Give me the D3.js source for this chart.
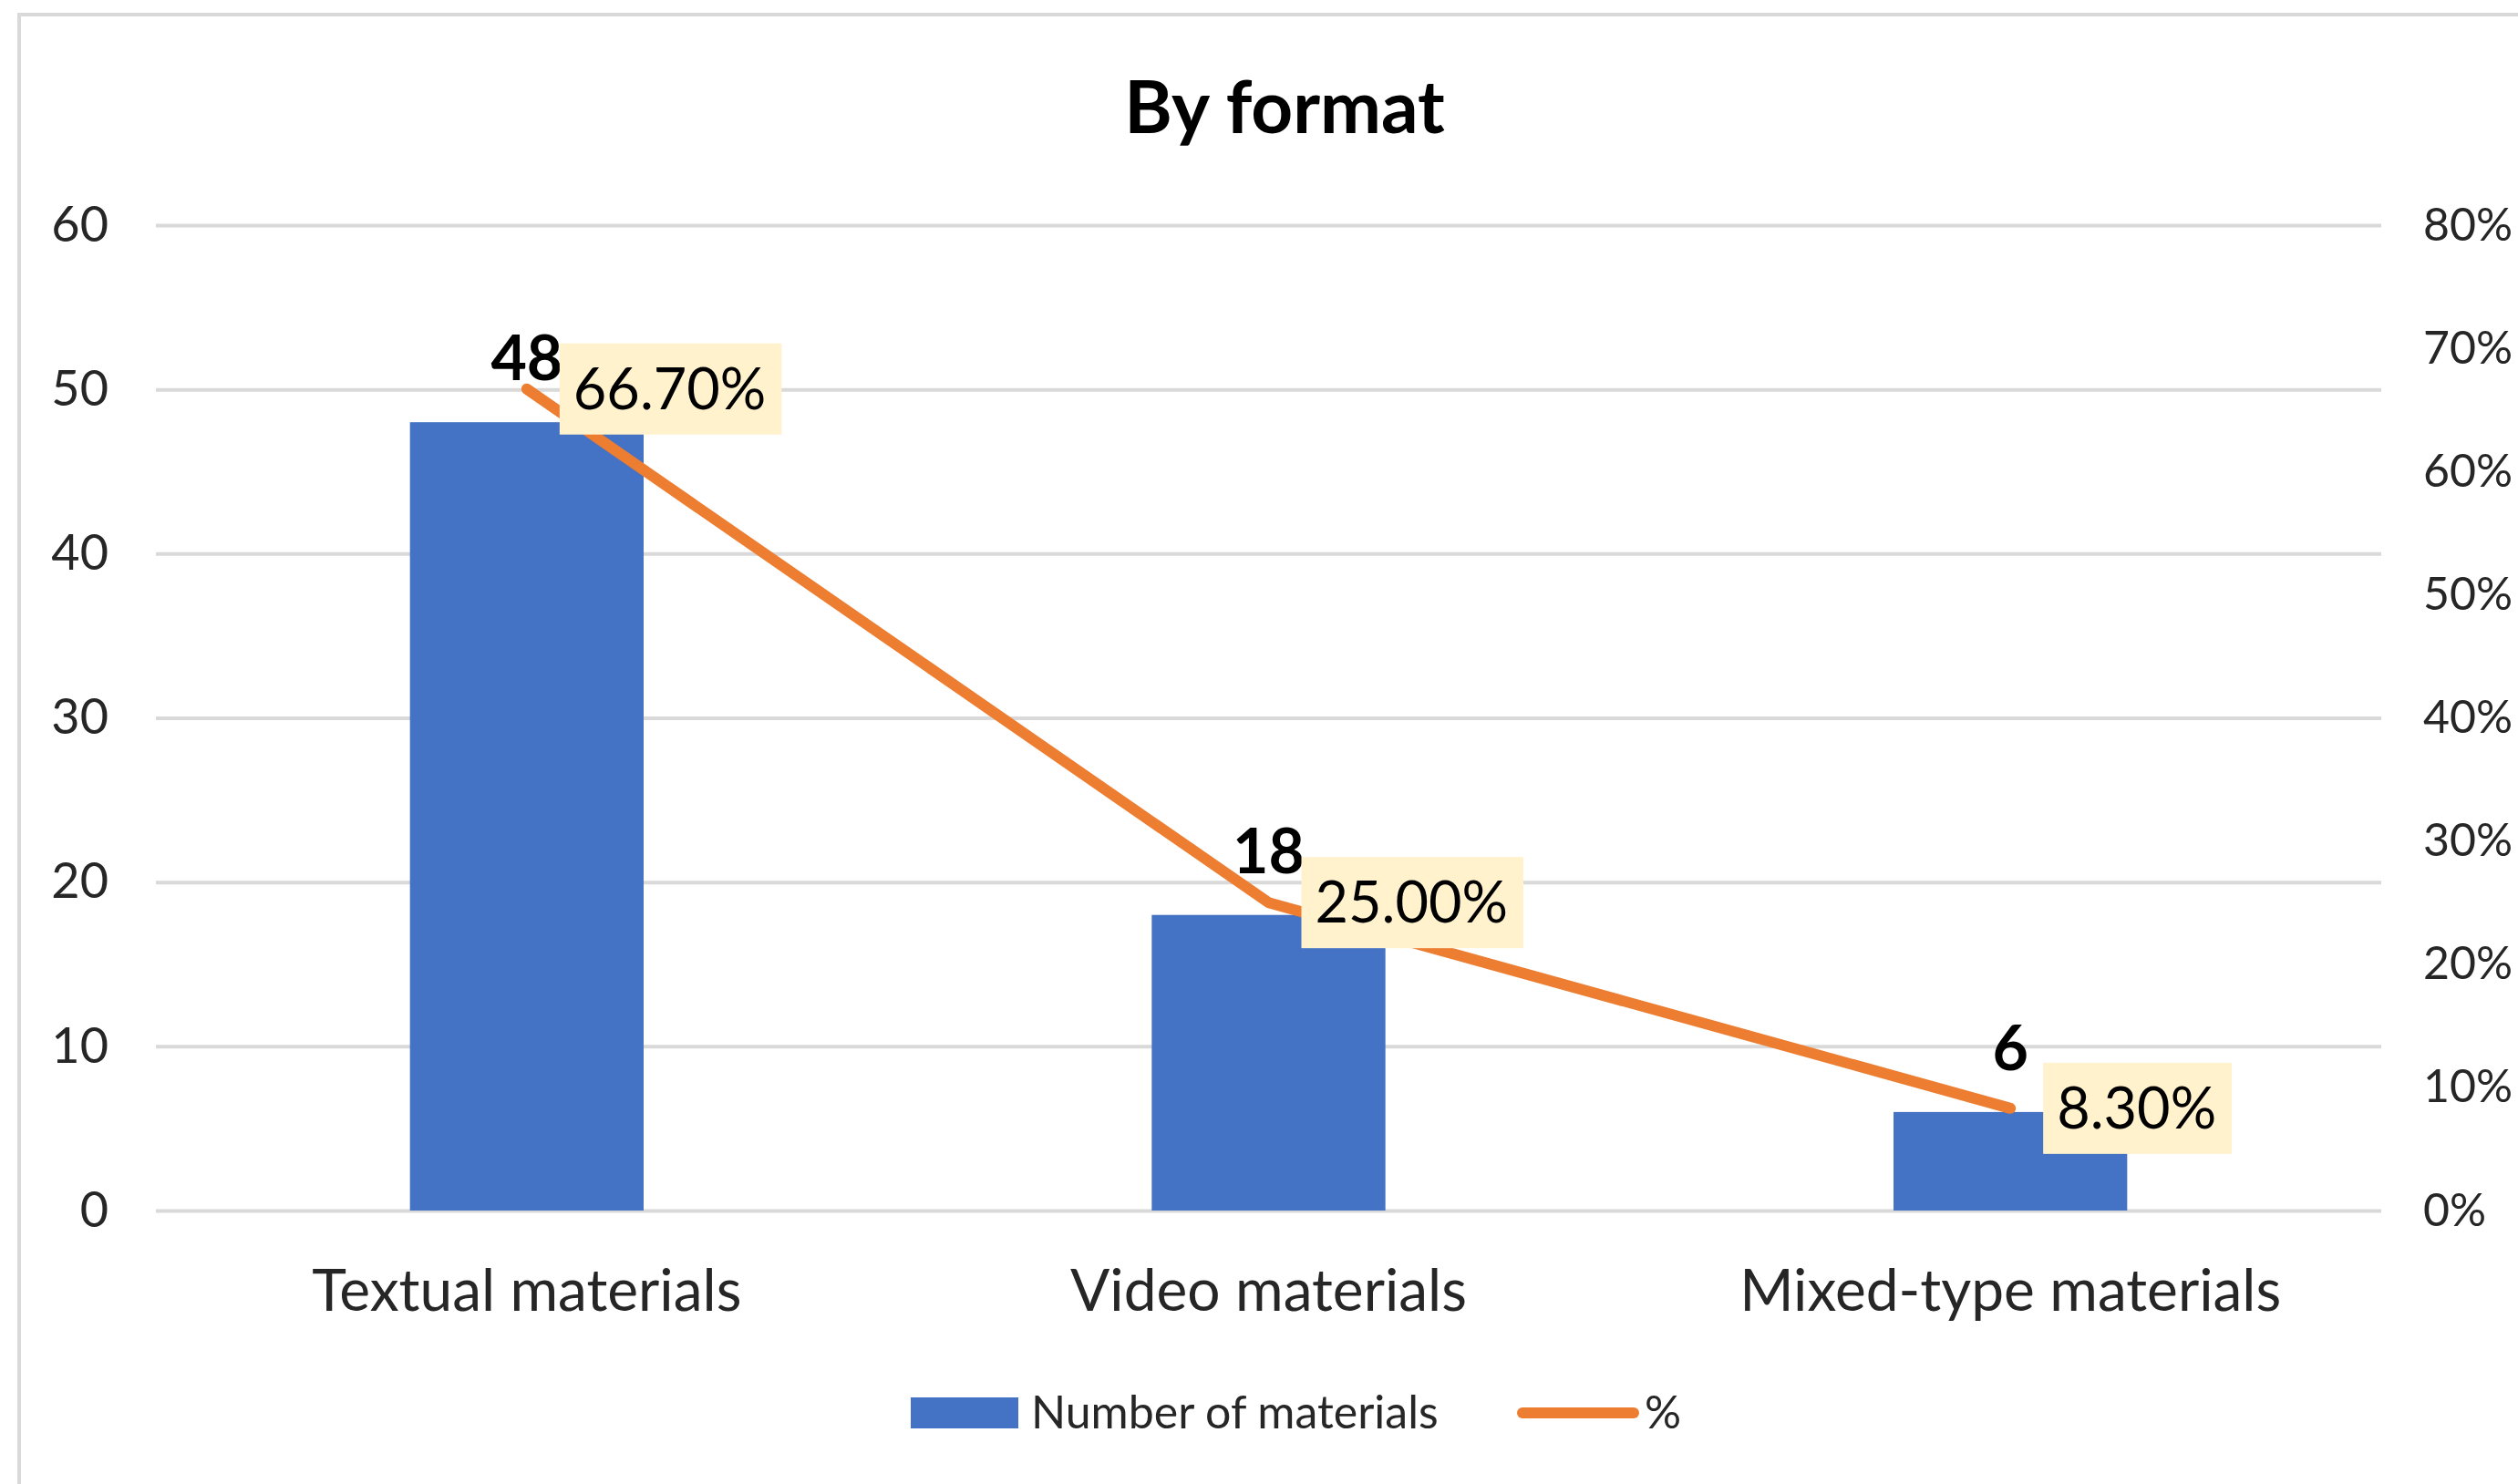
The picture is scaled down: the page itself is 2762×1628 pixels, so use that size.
<!DOCTYPE html>
<html>
<head>
<meta charset="utf-8">
<script src="https://cdn.jsdelivr.net/npm/d3@7"></script>
<style>
  html, body { margin: 0; padding: 0; background: #fff; overflow: hidden; }
  svg { display: block; font-family: Lato, "Noto Sans", sans-serif; }
</style>
</head>
<body>
<div id="chart"></div>
<script>
// 数据
const categories = ['Textual materials', 'Video materials', 'Mixed-type materials'];
const counts = [48, 18, 6];
const percents = [0.667, 0.25, 0.083];
const pctLabels = ['66.70%', '25.00%', '8.30%'];
const leftTicks = [0, 10, 20, 30, 40, 50, 60];
const rightTicks = [0, 0.1, 0.2, 0.3, 0.4, 0.5, 0.6, 0.7, 0.8];

const W = 2762, H = 1628;
const margin = { top: 247, right: 150, bottom: 300, left: 171 };
const width = W - margin.left - margin.right,
      height = H - margin.top - margin.bottom;

const blue = '#4472C4', orange = '#ED7D31', grid = '#D9D9D9', ink = '#262626';

const svg = d3.select('#chart').append('svg')
  .attr('width', W).attr('height', H);

// 外框
svg.append('rect')
  .attr('x', 21).attr('y', 16)
  .attr('width', W + 40).attr('height', H + 40)
  .attr('fill', '#fff')
  .attr('stroke', grid).attr('stroke-width', 4);

// 标题
svg.append('text')
  .attr('x', 1409).attr('y', 146)
  .attr('text-anchor', 'middle')
  .style('font-size', '80px').style('font-weight', 'bold')
  .style('fill', '#000')
  .text('By format');

const g = svg.append('g').attr('transform', `translate(${margin.left},${margin.top})`);

// 比例尺
const x = d3.scaleBand().domain(categories).range([0, width]).padding(0);
const y = d3.scaleLinear().domain([0, 60]).range([height, 0]);
const y2 = d3.scaleLinear().domain([0, 0.8]).range([height, 0]);
const barW = x.bandwidth() * 0.315;
const cx = d => x(d) + x.bandwidth() / 2;

// 网格线 + 左轴
const yAxis = g.append('g')
  .call(d3.axisLeft(y).tickValues(leftTicks).tickSize(-width).tickPadding(52).tickFormat(d3.format('d')));
yAxis.select('.domain').remove();
yAxis.selectAll('.tick line').attr('stroke', grid).attr('stroke-width', 4);
yAxis.selectAll('.tick text').style('font-size', '54px').style('fill', ink)
  .style('font-family', 'Lato, sans-serif');

// 右轴
const yAxis2 = g.append('g')
  .attr('transform', `translate(${width},0)`)
  .call(d3.axisRight(y2).tickValues(rightTicks).tickSize(0).tickPadding(46).tickFormat(d3.format('.0%')));
yAxis2.select('.domain').remove();
yAxis2.selectAll('.tick text').style('font-size', '50px').style('fill', ink)
  .style('font-family', 'Lato, sans-serif');

// 柱子
g.selectAll('.bar')
  .data(categories)
  .enter().append('rect')
  .attr('class', 'bar')
  .attr('x', d => cx(d) - barW / 2)
  .attr('y', (d, i) => y(counts[i]))
  .attr('width', barW)
  .attr('height', (d, i) => height - y(counts[i]))
  .attr('fill', blue);

// 折线
const line = d3.line()
  .x(d => cx(d.cat))
  .y(d => y2(d.p));
const pts = categories.map((c, i) => ({ cat: c, p: percents[i] }));
g.append('path')
  .datum(pts)
  .attr('d', line)
  .attr('fill', 'none')
  .attr('stroke', orange)
  .attr('stroke-width', 12)
  .attr('stroke-linecap', 'round')
  .attr('stroke-linejoin', 'round');

// 柱顶数值
g.selectAll('.count-label')
  .data(categories)
  .enter().append('text')
  .attr('class', 'count-label')
  .attr('x', d => cx(d))
  .attr('y', (d, i) => y(counts[i]) - 46)
  .attr('text-anchor', 'middle')
  .style('font-size', '68px').style('font-weight', 'bold')
  .style('fill', '#000')
  .text((d, i) => counts[i]);

// 百分比标签（黄色底）
const pl = g.selectAll('.pct-label')
  .data(categories)
  .enter().append('g')
  .attr('class', 'pct-label')
  .attr('transform', (d, i) => `translate(${cx(d) + 36},${y2(percents[i])})`);

pl.append('text')
  .attr('x', 15)
  .attr('y', 22)
  .style('font-size', '63px')
  .style('fill', '#000')
  .text((d, i) => pctLabels[i]);

pl.each(function () {
  const gg = d3.select(this);
  const bb = gg.select('text').node().getBBox();
  gg.insert('rect', 'text')
    .attr('x', 0).attr('y', -50)
    .attr('width', bb.width + 32).attr('height', 100)
    .attr('fill', '#FFF2CC');
});

// 分类标签
g.selectAll('.cat-label')
  .data(categories)
  .enter().append('text')
  .attr('class', 'cat-label')
  .attr('x', d => cx(d))
  .attr('y', 1438 - margin.top)
  .attr('text-anchor', 'middle')
  .style('font-size', '64px')
  .style('fill', ink)
  .text(d => d);

// 图例
const legend = svg.append('g');
legend.append('rect')
  .attr('x', 999).attr('y', 1533).attr('width', 118).attr('height', 34)
  .attr('fill', blue);
legend.append('text')
  .attr('x', 1131).attr('y', 1567)
  .style('font-size', '50px').style('fill', ink)
  .text('Number of materials');
legend.append('line')
  .attr('x1', 1670).attr('x2', 1792).attr('y1', 1550).attr('y2', 1550)
  .attr('stroke', orange).attr('stroke-width', 12).attr('stroke-linecap', 'round');
legend.append('text')
  .attr('x', 1804).attr('y', 1567)
  .style('font-size', '50px').style('fill', ink)
  .text('%');
</script>
</body>
</html>
